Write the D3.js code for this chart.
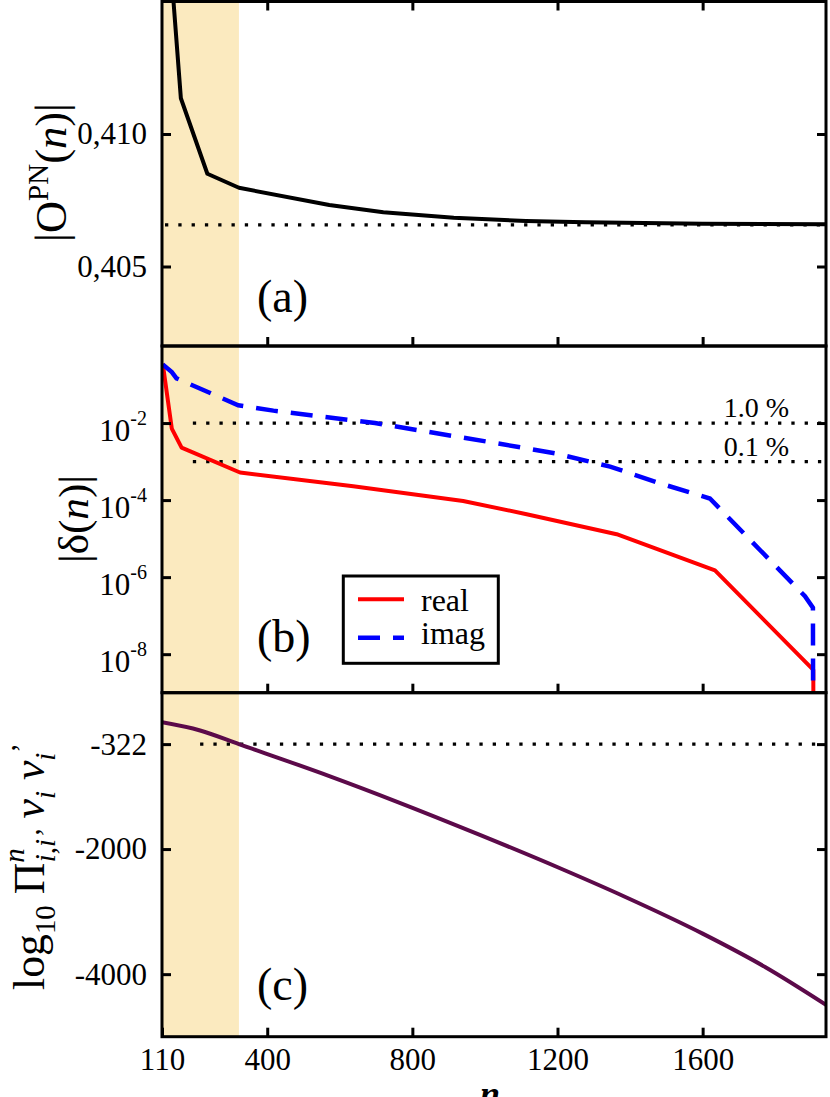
<!DOCTYPE html>
<html><head><meta charset="utf-8">
<script src="https://d3js.org/d3.v7.min.js"></script>
<style>
body{margin:0;background:#fff}
svg{display:block}
text{font-family:"Liberation Serif","Times New Roman",serif;fill:#000}
</style>
</head><body>
<svg id="chart" width="830" height="1097"></svg>
<script>
// ---------------- data ----------------
const xTickValues = [400, 800, 1200, 1600];
const xTickLabels = [110, 400, 800, 1200, 1600];
const shadeEnd = 322;

// panel (a) |O^PN(n)|
const pnN   = [130, 162, 235, 322, 571, 720, 914, 1113, 1277, 1600, 1940];
const pnVal = [0.4171, 0.41135, 0.4085, 0.40797, 0.40732, 0.40705, 0.40684, 0.40672, 0.40667, 0.40661, 0.40659];
const pnRef = 0.40657;
const pnTicks = [0.405, 0.410];

// panel (b) |delta(n)|
const realN   = [112, 137, 164, 325, 637, 940, 1115, 1363, 1634, 1905, 1906];
const realVal = [3.5e-1, 7.2e-3, 2.3e-3, 5.2e-4, 2.3e-4, 9.5e-5, 4.3e-5, 1.3e-5, 1.5e-6, 3.9e-9, 1e-12];
const imagN   = [112, 137, 150, 320, 417, 697, 1041, 1198, 1345, 1473, 1620, 1882, 1904, 1905];
const imagVal = [3.3e-1, 2.1e-1, 1.45e-1, 2.9e-2, 2.1e-2, 1.0e-2, 2.9e-3, 1.6e-3, 7.4e-4, 2.9e-4, 1.1e-4, 3.2e-7, 1.6e-7, 1e-12];
const deltaRefs = [1e-2, 1e-3];
const deltaRefLabels = ["1.0 %", "0.1 %"];
const deltaTicks = [1e-2, 1e-4, 1e-6, 1e-8];
const legendLabels = ["real", "imag"];

// panel (c) log10 product
const prodN   = [110, 215, 322, 573, 758, 986, 1215, 1381, 1600, 1772, 1940];
const prodVal = [27, -104, -322, -837, -1244, -1773, -2327, -2750, -3352, -3885, -4490];
const prodRef = -322;
const prodTicks = [-322, -2000, -4000];

// ---------------- layout ----------------
const FAM = '"Liberation Serif","Times New Roman",serif';
const svg = d3.select("#chart");
const L = 162, R = 826;
const P = {
  a: {top: 1.5, bottom: 346},
  b: {top: 346, bottom: 692.7},
  c: {top: 692.7, bottom: 1036.7}
};
const x = d3.scaleLinear().domain([110, 1940]).range([L, R]);
const ya = d3.scaleLinear().domain([0.402, 0.415]).range([P.a.bottom, P.a.top]);
const yb = d3.scaleLog().domain([1e-9, 1]).range([P.b.bottom, P.b.top]);
const yc = d3.scaleLinear().domain([-5000, 500]).range([P.c.bottom, P.c.top]);

const SHADE = "#fbeabf";
const defs = svg.append("defs");
["a","b","c"].forEach(k => {
  defs.append("clipPath").attr("id", "clip-" + k).append("rect")
    .attr("x", L).attr("y", P[k].top).attr("width", R - L).attr("height", P[k].bottom - P[k].top);
});

["a","b","c"].forEach(k => {
  svg.append("rect").attr("x", x(110)).attr("y", P[k].top)
    .attr("width", x(shadeEnd) - x(110)).attr("height", P[k].bottom - P[k].top)
    .attr("fill", SHADE);
});

function dotted(g, x1, x2, y) {
  g.append("line").attr("x1", x1).attr("x2", x2).attr("y1", y).attr("y2", y)
    .attr("stroke", "#000").attr("stroke-width", 3.3).attr("stroke-dasharray", "3.3,10");
}

// ---- panel a ----
const ga = svg.append("g").attr("clip-path", "url(#clip-a)");
dotted(ga, x(110) + 3, R, ya(pnRef));
ga.append("path").datum(pnN.map((n, i) => [n, pnVal[i]]))
  .attr("fill", "none").attr("stroke", "#000").attr("stroke-width", 4).attr("stroke-linejoin", "round")
  .attr("d", d3.line().x(d => x(d[0])).y(d => ya(d[1])));

// ---- panel b ----
const gb = svg.append("g").attr("clip-path", "url(#clip-b)");
deltaRefs.forEach(v => dotted(gb, x(195), R, yb(v)));
gb.append("path").datum(realN.map((n, i) => [n, realVal[i]]))
  .attr("fill", "none").attr("stroke", "#ff0000").attr("stroke-width", 4).attr("stroke-linejoin", "round")
  .attr("d", d3.line().x(d => x(d[0])).y(d => yb(d[1])));
gb.append("path").datum(imagN.map((n, i) => [n, imagVal[i]]))
  .attr("fill", "none").attr("stroke", "#0000ff").attr("stroke-width", 4.5).attr("stroke-dasharray", "22,13")
  .attr("d", d3.line().x(d => x(d[0])).y(d => yb(d[1])));
deltaRefLabels.forEach((t, i) => {
  svg.append("text").attr("x", 789).attr("y", yb(deltaRefs[i]) - 6).attr("text-anchor", "end")
    .attr("font-size", 28).text(t);
});

// legend
const lg = svg.append("g");
lg.append("rect").attr("x", 343.3).attr("y", 576).attr("width", 155).attr("height", 87.3)
  .attr("fill", "#fff").attr("stroke", "#000").attr("stroke-width", 3);
lg.append("line").attr("x1", 358).attr("x2", 404).attr("y1", 599.3).attr("y2", 599.3)
  .attr("stroke", "#ff0000").attr("stroke-width", 4);
lg.append("line").attr("x1", 358).attr("x2", 404).attr("y1", 637.7).attr("y2", 637.7)
  .attr("stroke", "#0000ff").attr("stroke-width", 4.5).attr("stroke-dasharray", "22,13");
lg.append("text").attr("x", 421).attr("y", 611).attr("font-size", 32).text(legendLabels[0]);
lg.append("text").attr("x", 421).attr("y", 643.5).attr("font-size", 32).text(legendLabels[1]);

// ---- panel c ----
const gc = svg.append("g").attr("clip-path", "url(#clip-c)");
dotted(gc, x(215), R, yc(prodRef));
gc.append("path").datum(prodN.map((n, i) => [n, prodVal[i]]))
  .attr("fill", "none").attr("stroke", "#5c0a4a").attr("stroke-width", 4)
  .attr("d", d3.line().curve(d3.curveMonotoneX).x(d => x(d[0])).y(d => yc(d[1])));

// ---------------- axes ----------------
function styleAxis(g) {
  g.select(".domain").remove();
  g.attr("font-family", null).attr("font-size", null);
  g.selectAll(".tick line").attr("stroke", "#000").attr("stroke-width", 3);
  g.selectAll(".tick text").attr("font-family", FAM).attr("font-size", 31).attr("fill", "#000");
}

// panel a
svg.append("g").attr("transform", `translate(${L},0)`)
  .call(d3.axisLeft(ya).tickValues(pnTicks).tickSize(-9).tickPadding(15)
    .tickFormat(d => d3.format(".3f")(d).replace(".", ",")))
  .call(styleAxis);
svg.append("g").attr("transform", `translate(${R},0)`)
  .call(d3.axisRight(ya).tickValues(pnTicks).tickSize(-9).tickFormat(""))
  .call(styleAxis);
svg.append("g").attr("transform", `translate(0,${P.a.top})`)
  .call(d3.axisTop(x).tickValues(xTickValues).tickSize(-9).tickFormat(""))
  .call(styleAxis);
svg.append("g").attr("transform", `translate(0,${P.a.bottom})`)
  .call(d3.axisBottom(x).tickValues(xTickValues).tickSize(-9).tickFormat(""))
  .call(styleAxis);

// panel b
const axb = svg.append("g").attr("transform", `translate(${L},0)`)
  .call(d3.axisLeft(yb).tickValues(deltaTicks).tickSize(-9).tickPadding(15).tickFormat(() => ""))
  .call(styleAxis);
axb.selectAll(".tick text").each(function(d) {
  const t = d3.select(this).attr("dy", "0.57em");
  t.append("tspan").text("10");
  t.append("tspan").attr("dy", -16).attr("font-size", 20).text(String(Math.round(Math.log10(d))));
});
svg.append("g").attr("transform", `translate(${R},0)`)
  .call(d3.axisRight(yb).tickValues(deltaTicks).tickSize(-9).tickFormat(""))
  .call(styleAxis);
svg.append("g").attr("transform", `translate(0,${P.b.bottom})`)
  .call(d3.axisBottom(x).tickValues(xTickValues).tickSize(-9).tickFormat(""))
  .call(styleAxis);

// panel c
svg.append("g").attr("transform", `translate(${L},0)`)
  .call(d3.axisLeft(yc).tickValues(prodTicks).tickSize(-9).tickPadding(15).tickFormat(d => String(d)))
  .call(styleAxis);
svg.append("g").attr("transform", `translate(${R},0)`)
  .call(d3.axisRight(yc).tickValues(prodTicks).tickSize(-9).tickFormat(""))
  .call(styleAxis);
svg.append("g").attr("transform", `translate(0,${P.c.bottom})`)
  .call(d3.axisBottom(x).tickValues(xTickLabels).tickSize(-9).tickPadding(11).tickFormat(d => String(d)))
  .call(styleAxis);

// frames
["a","b","c"].forEach(k => {
  svg.append("rect").attr("x", L).attr("y", P[k].top).attr("width", R - L)
    .attr("height", P[k].bottom - P[k].top)
    .attr("fill", "none").attr("stroke", "#000").attr("stroke-width", 3);
});

// panel letters
[["(a)", 312], ["(b)", 652], ["(c)", 1000]].forEach(([t, y]) => {
  svg.append("text").attr("x", 257).attr("y", y).attr("font-size", 46).text(t);
});

// ---------------- axis titles (rotated, fitted to their extent) ----------------
function rotLabel(bx, cy, span, size, build) {
  const t = svg.append("text").attr("font-size", size);
  build(t);
  const bb = t.node().getBBox();
  const k = span / bb.width;
  const c = bb.x + bb.width / 2;
  t.attr("transform", `translate(${bx},${cy}) rotate(-90) scale(${k}) translate(${-c},0)`);
  return t;
}
rotLabel(66, 172.5, 139, 46, t => {
  t.append("tspan").text("|O");
  t.append("tspan").attr("dy", -19).attr("font-size", 30).text("PN");
  t.append("tspan").attr("dy", 19).text("(");
  t.append("tspan").attr("font-style", "italic").text("n");
  t.append("tspan").text(")|");
});
rotLabel(88, 519, 88, 46, t => {
  t.append("tspan").text("|δ(");
  t.append("tspan").attr("font-style", "italic").text("n");
  t.append("tspan").text(")|");
});
rotLabel(44, 866.5, 247, 44, t => {
  t.append("tspan").text("log");
  t.append("tspan").attr("dy", 11).attr("font-size", 29).text("10");
  t.append("tspan").attr("dy", -11).text(" Π");
  t.append("tspan").attr("dy", -20).attr("font-size", 29).attr("font-style", "italic").text("n");
  t.append("tspan").attr("dx", -14).attr("dy", 31).attr("font-size", 29).attr("font-style", "italic").text("i,i’");
  t.append("tspan").attr("dy", -11).attr("font-style", "italic").text(" v");
  t.append("tspan").attr("dy", 11).attr("font-size", 29).attr("font-style", "italic").text("i");
  t.append("tspan").attr("dy", -11).attr("font-style", "italic").text(" v");
  t.append("tspan").attr("dy", 11).attr("font-size", 29).attr("font-style", "italic").text("i");
  t.append("tspan").attr("dy", -24).attr("font-size", 29).text("’");
});
svg.append("text").attr("x", 490).attr("y", 1106).attr("text-anchor", "middle")
  .attr("font-size", 36).attr("font-style", "italic").attr("font-weight", "bold").text("n");
</script>
</body></html>
